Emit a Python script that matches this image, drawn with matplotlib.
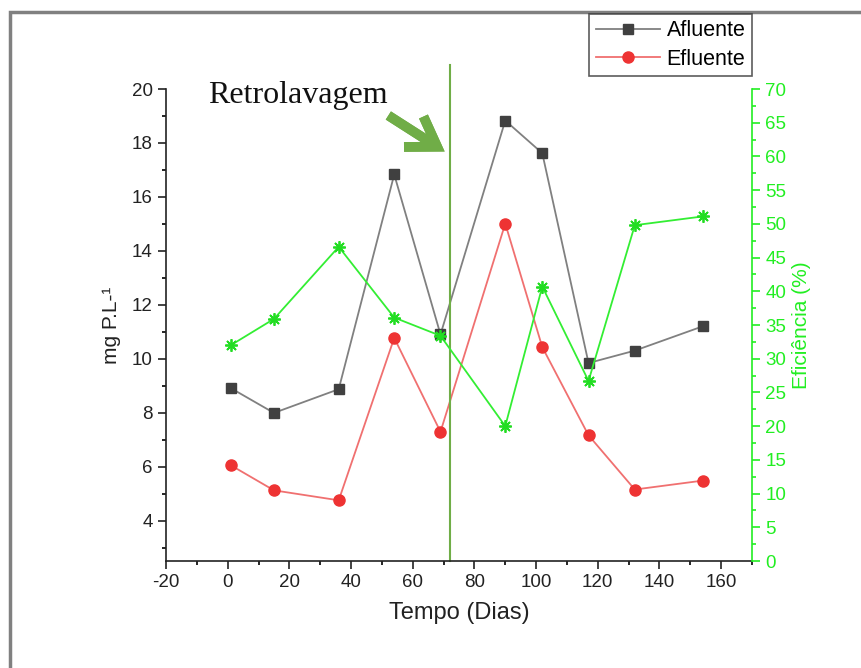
import matplotlib.pyplot as plt
from matplotlib.patches import Rectangle
from matplotlib.ticker import MultipleLocator

plt.rcParams['font.family'] = ['Liberation Sans', 'DejaVu Sans']
plt.rcParams['axes.unicode_minus'] = False

# dados (tempo em dias)
dias = [1, 15, 36, 54, 69, 90, 102, 117, 132, 154]
afluente = [8.91, 7.99, 8.87, 16.83, 10.9, 18.83, 17.62, 9.84, 10.3, 11.2]
efluente = [6.05, 5.12, 4.75, 10.77, 7.29, 15.01, 10.43, 7.16, 5.15, 5.48]
eficiencia = [32.0, 35.9, 46.6, 36.1, 33.4, 20.0, 40.7, 26.7, 49.8, 51.1]
dia_retrolavagem = 72

verde_eixo = '#22ee22'
verde_seta = '#70ad47'

fig = plt.figure(figsize=(8.62, 6.68), dpi=100)
ax = fig.add_axes([166/862, 1-561/668, (752-166)/862, (561-89)/668])

# moldura cinza da figura
fig.add_artist(Rectangle((10/862, -0.1), 1.2, 1.1 - 12/668, transform=fig.transFigure,
                         fill=False, edgecolor='#808080', lw=2.5))

l1, = ax.plot(dias, afluente, color='#808080', lw=1.3, marker='s', ms=7,
              mfc='#404040', mec='#404040', label='Afluente')
l2, = ax.plot(dias, efluente, color='#f07070', lw=1.3, marker='o', ms=8,
              mfc='#ee3333', mec='#ee3333', label='Efluente')
ax.axvline(dia_retrolavagem, ymin=0, ymax=1.05, clip_on=False, color=verde_seta, lw=1.5)

ax.set_xlim(-20, 170)
ax.set_ylim(2.5, 20)
ax.xaxis.set_major_locator(MultipleLocator(20))
ax.xaxis.set_minor_locator(MultipleLocator(10))
ax.yaxis.set_major_locator(MultipleLocator(2))
ax.yaxis.set_minor_locator(MultipleLocator(1))
ax.set_yticks(range(4, 21, 2))
ax.tick_params(which='major', direction='out', length=6, width=1.2, labelsize=13.5, colors='#222222')
ax.tick_params(which='minor', direction='out', length=3, width=1.2)
ax.spines['top'].set_visible(False)
ax.spines['right'].set_visible(False)
for s in ['left', 'bottom']:
    ax.spines[s].set_linewidth(1.2)
    ax.spines[s].set_color('#222222')
ax.set_xlabel('Tempo (Dias)', fontsize=17, color='#222222', labelpad=8)
ax.set_ylabel('mg P.L-¹', fontsize=15, color='#222222', labelpad=8)

# eixo da eficiencia
ax2 = ax.twinx()
ax2.plot(dias, eficiencia, color='#33ee33', lw=1.3, marker=(8, 2, 0), ms=9, mew=1.3,
         mec='#22dd22')
ax2.set_ylim(0, 70)
ax2.yaxis.set_major_locator(MultipleLocator(5))
ax2.yaxis.set_minor_locator(MultipleLocator(2.5))
for s in ['top', 'left', 'bottom']:
    ax2.spines[s].set_visible(False)
ax2.spines['right'].set_color(verde_eixo)
ax2.spines['right'].set_linewidth(1.2)
ax2.tick_params(which='major', direction='out', length=6, width=1.2, labelsize=13.5,
                colors=verde_eixo)
ax2.tick_params(which='minor', direction='out', length=3, width=1.2, colors=verde_eixo)
ax2.set_ylabel('Eficiência (%)', fontsize=15, color=verde_eixo, labelpad=4)

# legenda
leg = fig.legend(handles=[l1, l2], loc='upper right', bbox_to_anchor=(752/862, 1-14/668),
                 fontsize=15.5, frameon=True, fancybox=False, handlelength=3.0,
                 borderpad=0.3, labelspacing=0.35, handletextpad=0.3, borderaxespad=0)
leg.get_frame().set_edgecolor('#333333')
leg.get_frame().set_linewidth(1.2)

# texto e seta da retrolavagem
fig.text(208/862, 1-96/668, 'Retrolavagem', family='Liberation Serif', fontsize=23,
         va='center', ha='left', color='#111111')
fig.add_artist(plt.annotate('', xy=(447/862, 1-153/668), xytext=(386/862, 1-114/668),
                            xycoords='figure fraction', textcoords='figure fraction',
                            arrowprops=dict(arrowstyle='->,head_length=2.0,head_width=1.3',
                                            lw=7, color=verde_seta, capstyle='butt',
                                            joinstyle='miter')))

fig.savefig('out.png', dpi=100)
